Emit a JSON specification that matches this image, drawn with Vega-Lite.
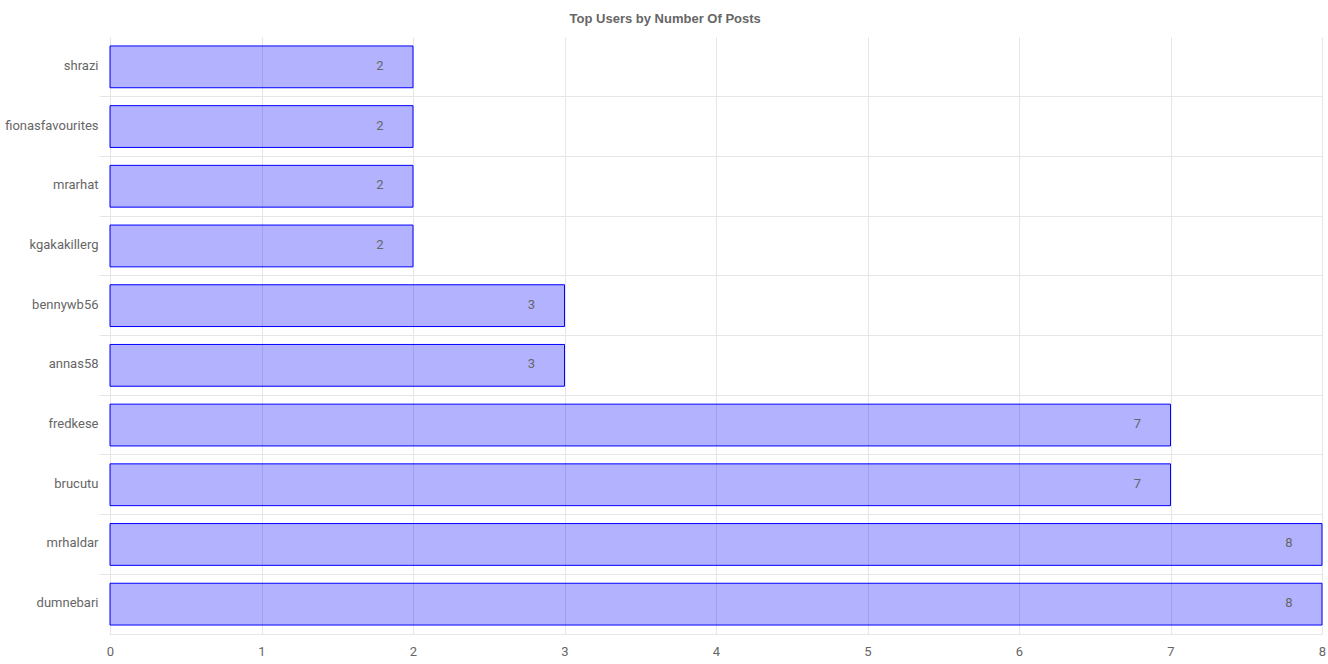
{
  "$schema": "https://vega.github.io/schema/vega-lite/v6.json",
  "width": 1212,
  "height": 597,
  "autosize": {"type": "none"},
  "padding": {"left": 110, "top": 37, "right": 6, "bottom": 30},
  "background": "white",
  "title": {
    "text": "Top Users by Number Of Posts",
    "font": "Liberation Sans",
    "fontSize": 13,
    "fontWeight": "bold",
    "color": "#666666",
    "anchor": "middle",
    "frame": "bounds",
    "offset": 11
  },
  "config": {
    "view": {"stroke": null},
    "axis": {"labelFont": "Roboto", "labelFontSize": 13, "labelColor": "#666666", "gridColor": "#e6e6e6", "tickColor": "#e6e6e6", "domainColor": "#e6e6e6"}
  },
  "data": {
    "values": [
      {"user": "shrazi", "posts": 2},
      {"user": "fionasfavourites", "posts": 2},
      {"user": "mrarhat", "posts": 2},
      {"user": "kgakakillerg", "posts": 2},
      {"user": "bennywb56", "posts": 3},
      {"user": "annas58", "posts": 3},
      {"user": "fredkese", "posts": 7},
      {"user": "brucutu", "posts": 7},
      {"user": "mrhaldar", "posts": 8},
      {"user": "dumnebari", "posts": 8}
    ]
  },
  "encoding": {
    "y": {
      "field": "user",
      "type": "nominal",
      "sort": null,
      "scale": {"paddingInner": 0, "paddingOuter": 0},
      "axis": {
        "title": null,
        "domain": false,
        "grid": true,
        "bandPosition": 1,
        "tickSize": 11,
        "labelPadding": 1,
        "labelOffset": -1,
        "tickOpacity": {"condition": {"test": "datum.value === 'dumnebari'", "value": 0}, "value": 1}
      }
    },
    "x": {
      "field": "posts",
      "type": "quantitative",
      "scale": {"domain": [0, 8], "nice": false},
      "axis": {"title": null, "tickCount": 8, "ticks": false, "labelPadding": 11, "domain": true, "grid": true, "labelFlush": false}
    }
  },
  "layer": [
    {
      "mark": {"type": "bar", "height": {"band": 0.7}, "fill": "blue", "fillOpacity": 0.3, "stroke": "blue", "strokeWidth": 1}
    },
    {
      "mark": {"type": "text", "dx": -33, "dy": -1, "align": "center", "baseline": "middle", "font": "Roboto", "fontSize": 13, "color": "#666666"},
      "encoding": {"text": {"field": "posts", "type": "quantitative"}}
    }
  ]
}
